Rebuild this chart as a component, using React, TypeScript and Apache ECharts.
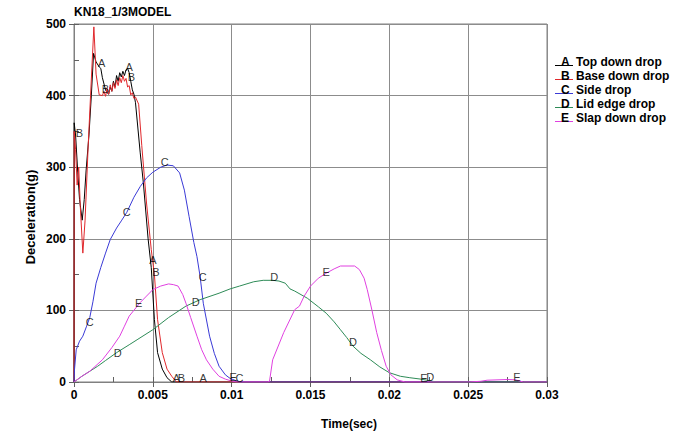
import React, { useEffect, useRef } from 'react';
import * as echarts from 'echarts';

const chartTitle = 'KN18_1/3MODEL';
const xAxisTitle = 'Time(sec)';
const yAxisTitle = 'Deceleration(g)';
const xTickLabels = ['0', '0.005', '0.01', '0.015', '0.02', '0.025', '0.03'];
const yTickLabels = ['0', '100', '200', '300', '400', '500'];
const seriesNames = ['Top down drop', 'Base down drop', 'Side drop', 'Lid edge drop', 'Slap down drop'];
const seriesLetters = ['A', 'B', 'C', 'D', 'E'];
const seriesColors = ['#000000', '#e0282c', '#3a3ad6', '#2e8b57', '#e040e0'];

const topDown = [[0,0],[0.00001,362],[0.0001,345],[0.00024,292],[0.00035,255],[0.00052,226],[0.00065,255],[0.00077,296],[0.00095,345],[0.0011,400],[0.00124,459],[0.0014,447],[0.0016,440],[0.0017,438],[0.0018,425],[0.002,408],[0.0021,404],[0.0022,402],[0.0023,412],[0.0024,406],[0.0025,420],[0.0026,412],[0.0027,428],[0.0028,420],[0.0029,432],[0.003,426],[0.0031,434],[0.0032,428],[0.0033,436],[0.0034,438],[0.0035,432],[0.0036,420],[0.0037,408],[0.0038,402],[0.0039,390],[0.0042,320],[0.0044,278],[0.0047,200],[0.0049,160],[0.0051,87],[0.0053,41],[0.0056,18],[0.0059,6],[0.0062,0],[0.03,0]];
const baseDown = [[0,0],[0.00001,350],[0.0001,325],[0.0002,275],[0.0003,300],[0.0004,245],[0.00056,180],[0.0007,225],[0.0009,330],[0.00105,400],[0.00126,496],[0.0014,430],[0.0016,401],[0.0018,400],[0.0019,406],[0.002,399],[0.0021,410],[0.0022,402],[0.0023,415],[0.0024,406],[0.0025,418],[0.0026,410],[0.0027,422],[0.0028,414],[0.0029,425],[0.003,418],[0.0031,428],[0.0032,420],[0.0033,424],[0.0034,412],[0.0035,414],[0.0036,401],[0.0037,404],[0.0038,396],[0.0039,398],[0.0041,388],[0.0043,330],[0.0046,250],[0.0049,185],[0.0051,150],[0.0053,87],[0.0056,41],[0.0059,18],[0.0062,8],[0.0065,0],[0.03,0]];
const sideDrop = [[0,0],[0.00003,17],[0.00014,45],[0.00035,57],[0.00056,64],[0.0008,78],[0.001,90],[0.0012,112],[0.0014,138],[0.0017,160],[0.002,180],[0.0023,199],[0.0027,215],[0.003,225],[0.00335,237],[0.0038,258],[0.0042,273],[0.0046,285],[0.005,293],[0.0055,300],[0.0059,303],[0.0063,302],[0.0067,292],[0.007,268],[0.0073,231],[0.0076,195],[0.0078,175],[0.008,147],[0.0082,110],[0.0086,64],[0.0089,40],[0.0092,22],[0.0096,10],[0.0099,5],[0.0105,0],[0.03,0]];
const lidEdge = [[0,0],[0.0005,8],[0.001,15],[0.0015,22],[0.002,30],[0.0027,41],[0.0035,52],[0.004,59],[0.005,73],[0.006,90],[0.0071,106],[0.008,115],[0.0092,124],[0.0099,130],[0.0105,134],[0.0114,140],[0.012,142],[0.0126,142],[0.013,141],[0.0134,138],[0.0137,130],[0.014,127],[0.0148,117],[0.0155,105],[0.016,96],[0.0165,84],[0.0169,73],[0.0173,62],[0.0177,50],[0.0182,40],[0.0188,31],[0.0194,21],[0.02,13],[0.0207,8],[0.0213,6],[0.022,4],[0.0225,2],[0.023,0],[0.03,0]];
const slapDown = [[0,0],[0.0005,8],[0.001,15],[0.0018,31],[0.0024,48],[0.0029,64],[0.0032,78],[0.0035,92],[0.0042,111],[0.0046,120],[0.005,129],[0.0055,134],[0.006,137],[0.0063,136],[0.0066,134],[0.0069,122],[0.0071,110],[0.0074,90],[0.0078,64],[0.0081,45],[0.0084,31],[0.0088,18],[0.0092,8],[0.0096,4],[0.0099,2],[0.0103,0],[0.0123,0],[0.0124,1],[0.0126,31],[0.0133,69],[0.014,101],[0.0143,106],[0.0146,120],[0.015,134],[0.0155,145],[0.016,152],[0.0165,158],[0.0169,162],[0.0178,162],[0.0181,157],[0.0184,145],[0.0186,129],[0.0189,100],[0.0192,69],[0.0195,44],[0.0198,22],[0.0201,10],[0.0205,3],[0.021,0],[0.025,0],[0.0258,1],[0.0262,2.5],[0.0275,3.5],[0.028,3],[0.0285,0],[0.03,0]];

const labelsA = [[0.00175,445],[0.0035,440],[0.005,170],[0.00649,5],[0.00819,5]];
const labelsB = [[0.00035,348],[0.002,409],[0.00364,426],[0.0052,154],[0.00681,5]];
const labelsC = [[0.00099,84],[0.00334,238],[0.00575,307],[0.00817,146],[0.0105,5]];
const labelsD = [[0.00277,41],[0.00772,112],[0.0127,147],[0.0177,56],[0.0226,7]];
const labelsE = [[0.0041,111],[0.0101,7],[0.016,153],[0.0222,5],[0.0281,7]];

const curves = [topDown, baseDown, sideDrop, lidEdge, slapDown];
const curveLabels = [labelsA, labelsB, labelsC, labelsD, labelsE];

const FONT = '"Liberation Sans", Arial, sans-serif';

export default function App() {
  const ref = useRef<HTMLDivElement>(null);
  useEffect(() => {
    document.body.style.margin = '0';
    const chart = echarts.init(ref.current!, null, { renderer: 'svg' });
    const lineSeries = curves.map((d, i) => ({
      name: seriesNames[i],
      type: 'line',
      data: d,
      showSymbol: false,
      symbol: 'none',
      silent: true,
      lineStyle: { color: seriesColors[i], width: 1 },
      itemStyle: { color: seriesColors[i] },
      z: 3,
    }));
    const labelSeries = curveLabels.map((d, i) => ({
      name: 'lbl' + seriesLetters[i],
      type: 'scatter',
      data: d,
      symbol: 'circle',
      symbolSize: 1,
      silent: true,
      itemStyle: { color: 'rgba(0,0,0,0)' },
      label: {
        show: true,
        position: 'inside',
        formatter: seriesLetters[i],
        color: '#000',
        fontSize: 11,
        fontFamily: FONT,
      },
      z: 5,
    }));
    const legendGraphics: any[] = [];
    seriesNames.forEach((n, i) => {
      const cy = 62 + i * 14;
      legendGraphics.push({
        type: 'line',
        shape: { x1: 555, y1: cy + 3.5, x2: 573, y2: cy + 3.5 },
        style: { stroke: seriesColors[i], lineWidth: 1 },
      });
      legendGraphics.push({
        type: 'text',
        x: 561,
        y: cy,
        style: { text: seriesLetters[i], fill: '#000', font: 'bold 12px ' + FONT, align: 'left', verticalAlign: 'middle' },
      });
      legendGraphics.push({
        type: 'text',
        x: 576,
        y: cy,
        style: { text: n, fill: '#000', font: 'bold 12px ' + FONT, align: 'left', verticalAlign: 'middle' },
      });
    });
    chart.setOption({
      animation: false,
      backgroundColor: '#fff',
      title: {
        text: chartTitle,
        left: 74,
        top: 6,
        padding: 0,
        textStyle: { fontSize: 12, fontWeight: 'bold', fontFamily: FONT, color: '#000' },
      },
      grid: {
        left: 74,
        top: 24,
        width: 473,
        height: 358,
        show: true,
        borderColor: '#808080',
        borderWidth: 1,
        backgroundColor: 'transparent',
      },
      xAxis: [
        {
          type: 'value',
          min: 0,
          max: 0.03,
          interval: 0.005,
          position: 'bottom',
          axisLine: { show: true, onZero: false, lineStyle: { color: '#808080', width: 1 } },
          axisTick: { show: true, length: 5, lineStyle: { color: '#606060' } },
          splitLine: { show: true, lineStyle: { color: '#8c8c8c', width: 1 } },
          axisLabel: {
            margin: 7,
            color: '#000',
            fontSize: 12,
            fontWeight: 'bold',
            fontFamily: FONT,
            formatter: (v: number) => xTickLabels[Math.round(v / 0.005)] ?? '',
          },
        },
        {
          type: 'value',
          min: 0,
          max: 0.03,
          interval: 0.0025,
          position: 'bottom',
          offset: 0,
          axisLine: { show: false },
          axisTick: { show: true, inside: true, length: 5, lineStyle: { color: '#606060' } },
          splitLine: { show: false },
          axisLabel: { show: false },
        },
      ],
      yAxis: [
        {
          type: 'value',
          min: 0,
          max: 500,
          interval: 100,
          position: 'left',
          axisLine: { show: true, onZero: false, lineStyle: { color: '#808080', width: 1 } },
          axisTick: { show: true, length: 5, lineStyle: { color: '#606060' } },
          splitLine: { show: true, lineStyle: { color: '#8c8c8c', width: 1 } },
          axisLabel: {
            margin: 8,
            color: '#000',
            fontSize: 12,
            fontWeight: 'bold',
            fontFamily: FONT,
            formatter: (v: number) => yTickLabels[Math.round(v / 100)] ?? '',
          },
        },
        {
          type: 'value',
          min: 0,
          max: 500,
          interval: 50,
          position: 'left',
          offset: 0,
          axisLine: { show: false },
          axisTick: { show: true, inside: true, length: 5, lineStyle: { color: '#606060' } },
          splitLine: { show: false },
          axisLabel: { show: false },
        },
      ],
      graphic: [
        {
          type: 'text',
          x: 349,
          y: 424,
          style: { text: xAxisTitle, fill: '#000', font: 'bold 12px ' + FONT, align: 'center', verticalAlign: 'middle' },
        },
        {
          type: 'text',
          x: 30,
          y: 217,
          rotation: Math.PI / 2,
          style: { text: yAxisTitle, fill: '#000', font: 'bold 13px ' + FONT, align: 'center', verticalAlign: 'middle' },
        },
        ...legendGraphics,
      ],
      series: [...lineSeries, ...labelSeries],
    });
    return () => chart.dispose();
  }, []);
  return <div ref={ref} style={{ position: 'fixed', left: 0, top: 0, width: 687, height: 435 }} />;
}
